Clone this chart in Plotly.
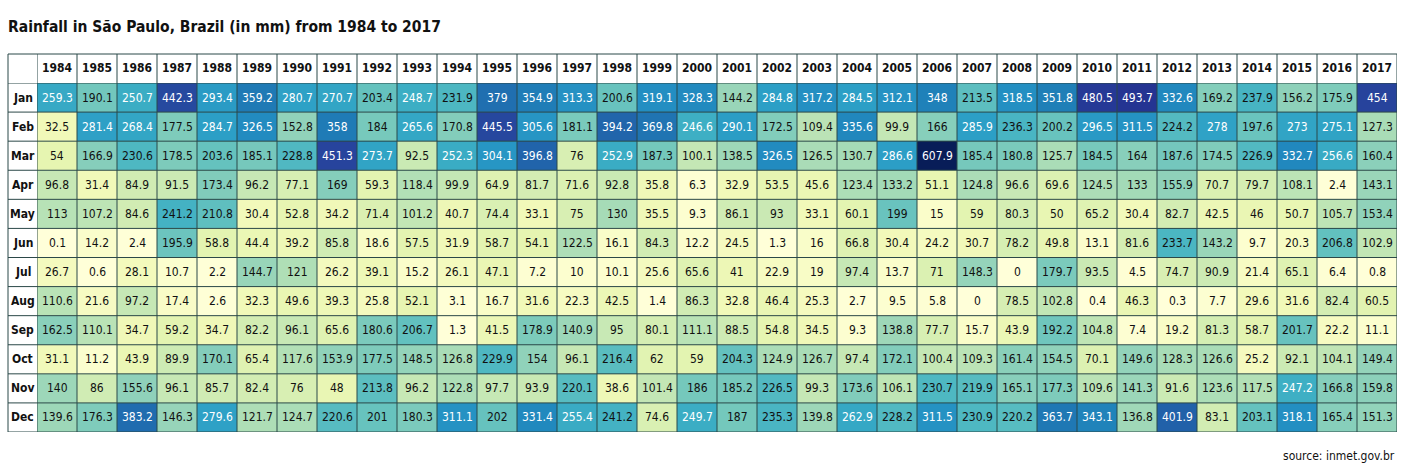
import plotly.graph_objects as go

years = list(range(1984, 2018))
months = ["Jan", "Feb", "Mar", "Apr", "May", "Jun", "Jul", "Aug", "Sep", "Oct", "Nov", "Dec"]

jan = [259.3, 190.1, 250.7, 442.3, 293.4, 359.2, 280.7, 270.7, 203.4, 248.7, 231.9, 379, 354.9, 313.3, 200.6, 319.1, 328.3, 144.2, 284.8, 317.2, 284.5, 312.1, 348, 213.5, 318.5, 351.8, 480.5, 493.7, 332.6, 169.2, 237.9, 156.2, 175.9, 454]
feb = [32.5, 281.4, 268.4, 177.5, 284.7, 326.5, 152.8, 358, 184, 265.6, 170.8, 445.5, 305.6, 181.1, 394.2, 369.8, 246.6, 290.1, 172.5, 109.4, 335.6, 99.9, 166, 285.9, 236.3, 200.2, 296.5, 311.5, 224.2, 278, 197.6, 273, 275.1, 127.3]
mar = [54, 166.9, 230.6, 178.5, 203.6, 185.1, 228.8, 451.3, 273.7, 92.5, 252.3, 304.1, 396.8, 76, 252.9, 187.3, 100.1, 138.5, 326.5, 126.5, 130.7, 286.6, 607.9, 185.4, 180.8, 125.7, 184.5, 164, 187.6, 174.5, 226.9, 332.7, 256.6, 160.4]
apr = [96.8, 31.4, 84.9, 91.5, 173.4, 96.2, 77.1, 169, 59.3, 118.4, 99.9, 64.9, 81.7, 71.6, 92.8, 35.8, 6.3, 32.9, 53.5, 45.6, 123.4, 133.2, 51.1, 124.8, 96.6, 69.6, 124.5, 133, 155.9, 70.7, 79.7, 108.1, 2.4, 143.1]
may = [113, 107.2, 84.6, 241.2, 210.8, 30.4, 52.8, 34.2, 71.4, 101.2, 40.7, 74.4, 33.1, 75, 130, 35.5, 9.3, 86.1, 93, 33.1, 60.1, 199, 15, 59, 80.3, 50, 65.2, 30.4, 82.7, 42.5, 46, 50.7, 105.7, 153.4]
jun = [0.1, 14.2, 2.4, 195.9, 58.8, 44.4, 39.2, 85.8, 18.6, 57.5, 31.9, 58.7, 54.1, 122.5, 16.1, 84.3, 12.2, 24.5, 1.3, 16, 66.8, 30.4, 24.2, 30.7, 78.2, 49.8, 13.1, 81.6, 233.7, 143.2, 9.7, 20.3, 206.8, 102.9]
jul = [26.7, 0.6, 28.1, 10.7, 2.2, 144.7, 121, 26.2, 39.1, 15.2, 26.1, 47.1, 7.2, 10, 10.1, 25.6, 65.6, 41, 22.9, 19, 97.4, 13.7, 71, 148.3, 0, 179.7, 93.5, 4.5, 74.7, 90.9, 21.4, 65.1, 6.4, 0.8]
aug = [110.6, 21.6, 97.2, 17.4, 2.6, 32.3, 49.6, 39.3, 25.8, 52.1, 3.1, 16.7, 31.6, 22.3, 42.5, 1.4, 86.3, 32.8, 46.4, 25.3, 2.7, 9.5, 5.8, 0, 78.5, 102.8, 0.4, 46.3, 0.3, 7.7, 29.6, 31.6, 82.4, 60.5]
sep = [162.5, 110.1, 34.7, 59.2, 34.7, 82.2, 96.1, 65.6, 180.6, 206.7, 1.3, 41.5, 178.9, 140.9, 95, 80.1, 111.1, 88.5, 54.8, 34.5, 9.3, 138.8, 77.7, 15.7, 43.9, 192.2, 104.8, 7.4, 19.2, 81.3, 58.7, 201.7, 22.2, 11.1]
oct_ = [31.1, 11.2, 43.9, 89.9, 170.1, 65.4, 117.6, 153.9, 177.5, 148.5, 126.8, 229.9, 154, 96.1, 216.4, 62, 59, 204.3, 124.9, 126.7, 97.4, 172.1, 100.4, 109.3, 161.4, 154.5, 70.1, 149.6, 128.3, 126.6, 25.2, 92.1, 104.1, 149.4]
nov = [140, 86, 155.6, 96.1, 85.7, 82.4, 76, 48, 213.8, 96.2, 122.8, 97.7, 93.9, 220.1, 38.6, 101.4, 186, 185.2, 226.5, 99.3, 173.6, 106.1, 230.7, 219.9, 165.1, 177.3, 109.6, 141.3, 91.6, 123.6, 117.5, 247.2, 166.8, 159.8]
dec = [139.6, 176.3, 383.2, 146.3, 279.6, 121.7, 124.7, 220.6, 201, 180.3, 311.1, 202, 331.4, 255.4, 241.2, 74.6, 249.7, 187, 235.3, 139.8, 262.9, 228.2, 311.5, 230.9, 220.2, 363.7, 343.1, 136.8, 401.9, 83.1, 203.1, 318.1, 165.4, 151.3]

z = [jan, feb, mar, apr, may, jun, jul, aug, sep, oct_, nov, dec]

title_text = "Rainfall in São Paulo, Brazil (in mm) from 1984 to 2017"
source_text = "source: inmet.gov.br"

ZMAX = 607.9
stops = [
    (0, "#ffffd9"), (15, "#fafdca"), (30, "#f2f9ba"), (55, "#e6f5b1"),
    (80, "#d5eeb3"), (100, "#c4e7b5"), (130, "#a6dbb7"), (150, "#93d3ba"),
    (175, "#80ccbb"), (200, "#68c3be"), (230, "#4fb8c2"), (250, "#3badc4"),
    (285, "#2c9fc6"), (320, "#238ec2"), (350, "#1f80b8"), (385, "#206bae"),
    (420, "#2356a4"), (450, "#27449d"), (490, "#253594"), (ZMAX, "#081d58"),
]
colorscale = [[v / ZMAX, c] for v, c in stops]

LINE = "#2b4848"
FONT = "'Liberation Sans Narrow', 'DejaVu Sans Condensed', 'Roboto', sans-serif"

W, H = 1407, 469
ML, MR, MT, MB = 37, 10, 83, 37
PW = W - ML - MR
PH = H - MT - MB
HEAD_H = 29
HEAD_W = 29

fig = go.Figure()
fig.add_trace(go.Heatmap(
    z=z,
    x=list(range(len(years))),
    y=list(range(len(months))),
    colorscale=colorscale,
    zmin=0, zmax=ZMAX,
    showscale=False,
    xgap=0, ygap=0,
    customdata=[[f"{m} {yr}" for yr in years] for m in months],
    hovertemplate="%{customdata}: %{z} mm<extra></extra>",
))

annotations = []
for j, row in enumerate(z):
    for i, v in enumerate(row):
        annotations.append(dict(
            x=i, y=j, xref="x", yref="y", text=f"{v:g}", showarrow=False,
            font=dict(family=FONT, size=12, color="#ffffff" if v > 245 else "#111111"),
        ))
top_y = 1 + HEAD_H / PH
for i, yr in enumerate(years):
    annotations.append(dict(
        x=i, y=1 + HEAD_H / 2 / PH, xref="x", yref="paper", text=f"<b>{yr}</b>",
        showarrow=False, yanchor="middle",
        font=dict(family=FONT, size=12, color="#111111"),
    ))
for j, m in enumerate(months):
    annotations.append(dict(
        x=-HEAD_W / 2 / PW, y=j, xref="paper", yref="y", text=f"<b>{m}</b>",
        showarrow=False, xanchor="center",
        font=dict(family=FONT, size=12, color="#111111"),
    ))
annotations.append(dict(
    x=-ML / PW + 6 / PW, y=1 + (MT - 27) / PH, xref="paper", yref="paper",
    text=f"<b>{title_text}</b>", showarrow=False, xanchor="left", yanchor="middle",
    font=dict(family=FONT, size=15.5, color="#111111"),
))
annotations.append(dict(
    x=1, y=-(456 - (H - MB)) / PH, xref="paper", yref="paper",
    text=source_text, showarrow=False, xanchor="right", yanchor="middle",
    font=dict(family=FONT, size=12, color="#111111"),
))

shapes = []
left_x = -HEAD_W / PW
for i in range(len(years) + 1):
    shapes.append(dict(type="line", xref="x", yref="paper", x0=i - 0.5, x1=i - 0.5,
                       y0=0, y1=top_y, line=dict(color=LINE, width=1), layer="above"))
shapes.append(dict(type="line", xref="paper", yref="paper", x0=left_x, x1=left_x,
                   y0=0, y1=top_y, line=dict(color=LINE, width=1), layer="above"))
for j in range(len(months) + 1):
    shapes.append(dict(type="line", xref="paper", yref="y", x0=left_x, x1=1,
                       y0=j - 0.5, y1=j - 0.5, line=dict(color=LINE, width=1), layer="above"))
shapes.append(dict(type="line", xref="paper", yref="paper", x0=left_x, x1=1,
                   y0=top_y, y1=top_y, line=dict(color=LINE, width=1), layer="above"))

fig.update_layout(
    width=W, height=H,
    margin=dict(l=ML, r=MR, t=MT, b=MB),
    paper_bgcolor="white", plot_bgcolor="white",
    xaxis=dict(range=[-0.5, len(years) - 0.5], showticklabels=False, showgrid=False,
               zeroline=False, ticks="", fixedrange=True),
    yaxis=dict(range=[len(months) - 0.5, -0.5], showticklabels=False, showgrid=False,
               zeroline=False, ticks="", fixedrange=True),
    annotations=annotations,
    shapes=shapes,
    showlegend=False,
)

fig.write_html("out.html")
